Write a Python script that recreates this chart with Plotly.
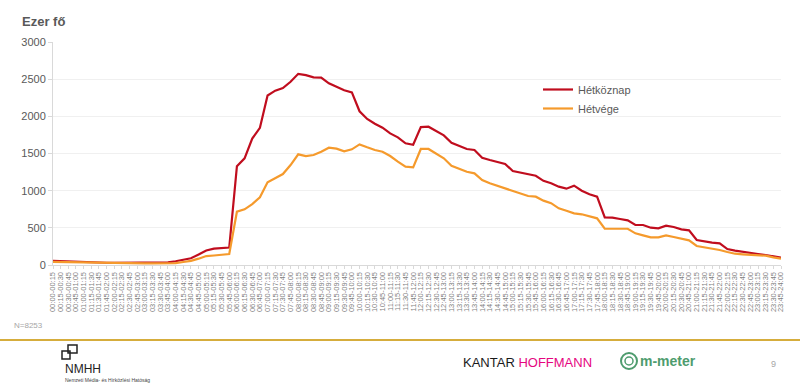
import plotly.graph_objects as go

# ---- data ----
time_labels = [f"{(q*15)//60:02d}:{(q*15)%60:02d}-{((q+1)*15)//60:02d}:{((q+1)*15)%60:02d}" for q in range(96)]

hetkoznap = [55, 50, 45, 40, 35, 32, 30, 30, 30, 30, 28, 28, 30, 30, 32, 36,
             50, 70, 90, 140, 195, 220, 232, 235, 1330, 1435, 1700, 1845, 2280, 2345, 2380, 2465,
             2572, 2555, 2524, 2522, 2444, 2395, 2350, 2323, 2068, 1965, 1900, 1847, 1771, 1717, 1637, 1618,
             1855, 1861, 1802, 1744, 1645, 1601, 1560, 1547, 1443, 1412, 1385, 1359, 1265, 1241, 1219, 1201,
             1132, 1099, 1054, 1027, 1067, 1000, 951, 919, 641, 637, 619, 601, 538, 538, 502, 493,
             529, 511, 480, 467, 336, 314, 300, 292, 215, 193, 175, 157, 148, 135, 112, 98]

hetvege = [42, 40, 38, 35, 30, 27, 25, 25, 24, 24, 22, 22, 22, 22, 22, 22,
           25, 40, 55, 85, 120, 128, 138, 148, 717, 749, 820, 910, 1112, 1166, 1224, 1345,
           1489, 1466, 1480, 1524, 1578, 1565, 1529, 1556, 1623, 1583, 1547, 1524, 1466, 1390, 1323, 1314,
           1561, 1561, 1502, 1435, 1336, 1300, 1255, 1233, 1143, 1099, 1063, 1027, 991, 959, 928, 919,
           866, 832, 762, 730, 695, 682, 650, 628, 488, 484, 488, 488, 426, 399, 372, 372,
           399, 377, 354, 332, 256, 238, 224, 202, 175, 152, 144, 139, 139, 125, 103, 85]

y_ticks = [0, 500, 1000, 1500, 2000, 2500, 3000]

# ---- geometry helpers (pixel -> paper) ----
W, H = 800, 388
ML, MR, MT, MB = 53, 19, 42, 123
PW, PH = W - ML - MR, H - MT - MB


def px(x):
    return (x - ML) / PW


def py(y):
    return (H - MB - y) / PH


FONT = "Arial, Liberation Sans, sans-serif"
GRAY = "#595959"

fig = go.Figure()
fig.add_trace(go.Scatter(x=time_labels, y=hetkoznap, mode="lines", name="Hétköznap",
                         line=dict(color="#c00d1e", width=2.2)))
fig.add_trace(go.Scatter(x=time_labels, y=hetvege, mode="lines", name="Hétvége",
                         line=dict(color="#f59a2c", width=2.2)))

fig.update_layout(
    width=W, height=H,
    margin=dict(l=ML, r=MR, t=MT, b=MB, pad=0, autoexpand=False),
    paper_bgcolor="white", plot_bgcolor="white",
    font=dict(family=FONT, color=GRAY),
    showlegend=True,
    legend=dict(x=px(538), y=py(75), xanchor="left", yanchor="top",
                bgcolor="rgba(0,0,0,0)", font=dict(size=11, color=GRAY),
                itemwidth=30, tracegroupgap=0),
    xaxis=dict(type="category", tickmode="linear", dtick=1, tick0=0,
               tickangle=-90, tickfont=dict(size=7.5, color="#7f7f7f"),
               showline=True, linecolor="#d9d9d9", linewidth=1,
               ticks="outside", ticklen=3, tickcolor="#d9d9d9",
               showgrid=False, zeroline=False, automargin=False),
    yaxis=dict(range=[0, 3000], tickvals=y_ticks, tickfont=dict(size=11, color=GRAY),
               showline=True, linecolor="#d9d9d9", linewidth=1,
               ticks="outside", ticklen=4, tickcolor="#d9d9d9",
               showgrid=True, gridcolor="#f0f0f0", gridwidth=1, zeroline=False,
               automargin=False),
)

annotations = [
    dict(text="<b>Ezer fő</b>", x=px(20), y=py(22), xanchor="left", yanchor="middle",
         font=dict(size=13, color=GRAY)),
    dict(text="N=8253", x=px(12), y=py(325), xanchor="left", yanchor="middle",
         font=dict(size=8, color="#a6a6a6")),
    dict(text="KANTAR <span style='color:#e5067f'>HOFFMANN</span>", x=px(461), y=py(362),
         xanchor="left", yanchor="middle", font=dict(size=13, color="#1a1a1a")),
    dict(text="<b>m-meter</b>", x=px(638), y=py(361), xanchor="left", yanchor="middle",
         font=dict(size=14, color="#4e9c6e")),
    dict(text="9", x=px(773), y=py(364), xanchor="center", yanchor="middle",
         font=dict(size=9, color="#a6a6a6")),
    dict(text="NMHH", x=px(63), y=py(369), xanchor="left", yanchor="middle",
         font=dict(size=12, color="#222222")),
    dict(text="Nemzeti Média- és Hírközlési Hatóság", x=px(63), y=py(380), xanchor="left", yanchor="middle",
         font=dict(size=5, color="#444444")),
]
for a in annotations:
    a.update(xref="paper", yref="paper", showarrow=False)
fig.update_layout(annotations=annotations)

shapes = [
    # gold rule
    dict(type="line", x0=px(0), x1=px(800), y0=py(340), y1=py(340),
         line=dict(color="#d6ad3c", width=2)),
    # NMHH logo squares
    dict(type="rect", x0=px(62), x1=px(70), y0=py(359), y1=py(351), line=dict(color="#222", width=1.5)),
    dict(type="rect", x0=px(68), x1=px(77), y0=py(353), y1=py(345), line=dict(color="#222", width=1.5)),
    # m-meter ring icon
    dict(type="circle", x0=px(621), x1=px(637), y0=py(369), y1=py(353), line=dict(color="#4e9c6e", width=2)),
    dict(type="circle", x0=px(625), x1=px(633), y0=py(365), y1=py(357), line=dict(color="#4e9c6e", width=1.5)),
]
for s in shapes:
    s.update(xref="paper", yref="paper")
fig.update_layout(shapes=shapes)

fig.write_html("out.html", config={"displayModeBar": False},
               post_script="document.body.style.margin='0';document.body.style.overflow='hidden';")
